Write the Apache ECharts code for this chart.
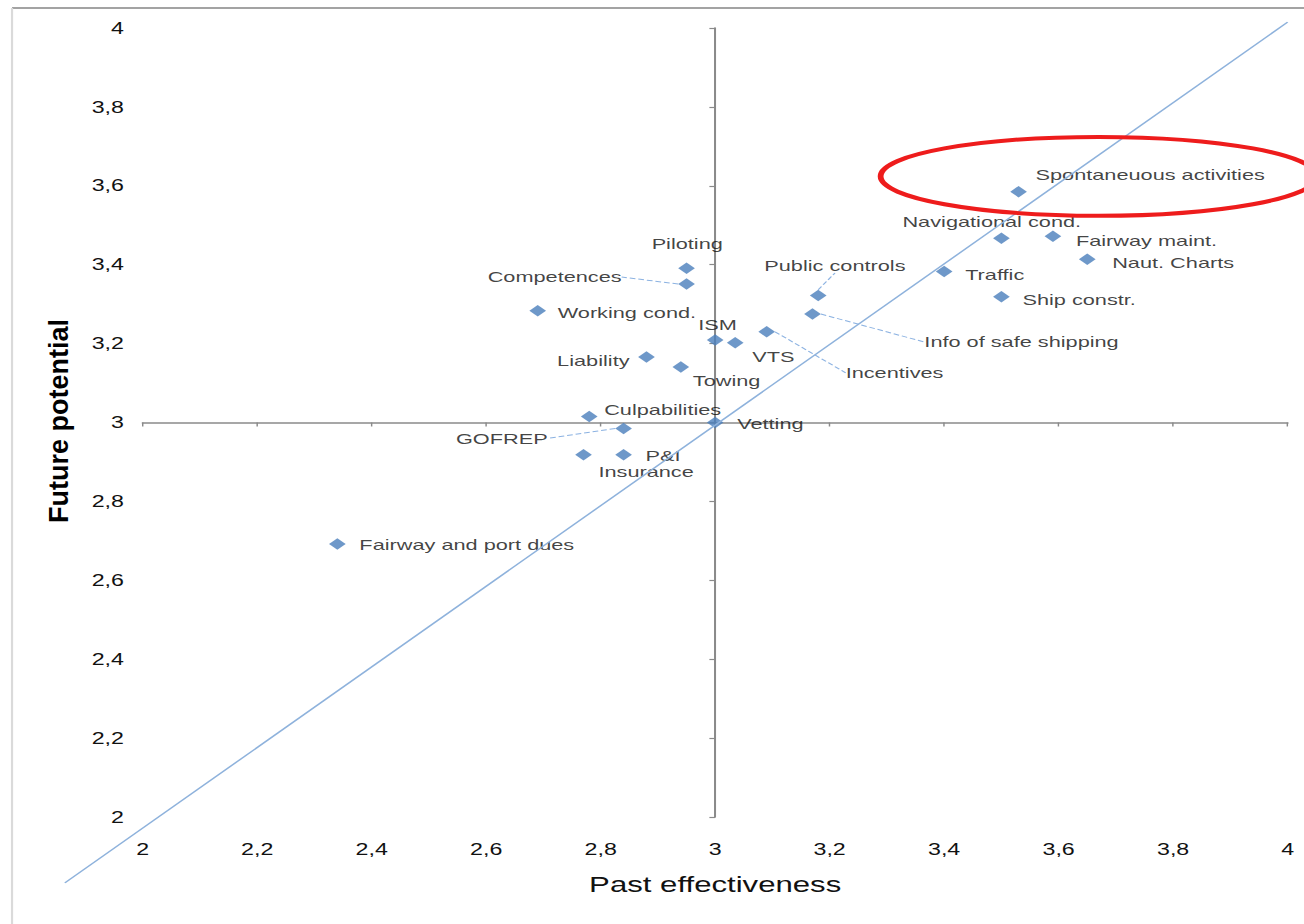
<!DOCTYPE html>
<html>
<head>
<meta charset="utf-8">
<script src="https://cdn.jsdelivr.net/npm/echarts@6/dist/echarts.min.js"></script>
<style>
  html, body { margin: 0; padding: 0; background: #fff; overflow: hidden; }
  #wrap { width: 1304px; height: 924px; overflow: hidden; }
  /* the plot is laid out on a 900px-wide canvas and widened to the full page */
  #chart { width: 900px; height: 924px; transform: scaleX(1.448889); transform-origin: 0 0; }
</style>
</head>
<body>
<div id="wrap"><div id="chart"></div></div>
<script>
const STRETCH = 1304 / 900;
const FONT = 'Liberation Sans, Arial, sans-serif';

// Safety measures: x = past effectiveness, y = future potential
const categories = [
  'Spontaneuous activities', 'Navigational cond.', 'Fairway maint.', 'Naut. Charts',
  'Traffic', 'Ship constr.', 'Public controls', 'Info of safe shipping', 'Incentives',
  'VTS', 'ISM', 'Piloting', 'Competences', 'Working cond.', 'Liability', 'Towing',
  'Culpabilities', 'GOFREP', 'Vetting', 'Insurance', 'P&I', 'Fairway and port dues'
];
const pastEffectiveness = [
  3.53, 3.50, 3.59, 3.65, 3.40, 3.50, 3.18, 3.17, 3.09, 3.035, 3.00,
  2.95, 2.95, 2.69, 2.88, 2.94, 2.78, 2.84, 3.00, 2.77, 2.84, 2.34
];
const futurePotential = [
  3.585, 3.467, 3.472, 3.414, 3.383, 3.319, 3.322, 3.275, 3.23, 3.202, 3.209,
  3.391, 3.351, 3.283, 3.166, 3.141, 3.015, 2.985, 3.00, 2.918, 2.918, 2.692
];
const tickLabels = ['2', '2,2', '2,4', '2,6', '2,8', '3', '3,2', '3,4', '3,6', '3,8', '4'];

// hand-drawn diagonal guide (endpoints in axis units)
const diagonalLine = [[1.864, 1.833], [4.0, 4.015]];
// red highlight ellipse around the top cluster (centre and radii in axis units)
const highlightCenter = [3.67, 3.624];
const highlightRadius = [0.381, 0.100];

// label placement: offset [dx, dy] in px from the marker, text alignment
const labelPlacement = {
  'Spontaneuous activities': [11.7, -17, 'left'],
  'Navigational cond.': [-68.3, -16, 'left'],
  'Fairway maint.': [15.9, 4, 'left'],
  'Naut. Charts': [17.2, 4, 'left'],
  'Traffic': [14.5, 3, 'left'],
  'Ship constr.': [14.5, 3, 'left'],
  'Public controls': [-37.2, -30, 'left'],
  'Info of safe shipping': [77.2, 28, 'left'],
  'Incentives': [54.5, 41, 'left'],
  'VTS': [11.7, 14, 'left'],
  'ISM': [-11.7, -15, 'left'],
  'Piloting': [-24.1, -24, 'left'],
  'Competences': [-44.8, -7, 'right'],
  'Working cond.': [13.8, 2, 'left'],
  'Liability': [-11.7, 4, 'right'],
  'Towing': [8.3, 14, 'left'],
  'Culpabilities': [10.3, -7, 'left'],
  'GOFREP': [-52.4, 10, 'right'],
  'Vetting': [15.2, 1, 'left'],
  'Insurance': [10.3, 17, 'left'],
  'P&I': [15.2, 1, 'left'],
  'Fairway and port dues': [15.2, 1, 'left']
};
const withLeader = ['Public controls', 'Info of safe shipping', 'Incentives', 'Competences', 'GOFREP'];

const points = categories.map((name, i) => ({
  name,
  value: [pastEffectiveness[i], futurePotential[i]],
  labelLine: { show: withLeader.indexOf(name) >= 0 }
}));

const gridLeft = 98.5, gridRight = 11.3, gridTop = 28, gridBottom = 107;
const chartW = 900, chartH = 924;
const axisGray = '#8a8a8a';
const textColor = '#111111';

const chart = echarts.init(document.getElementById('chart'), null, { renderer: 'svg' });

const midX = gridLeft + (chartW - gridLeft - gridRight) / 2;
const midY = gridTop + (chartH - gridTop - gridBottom) / 2;

const frameAndTitle = [
  { id: 'frameTop', type: 'line', shape: { x1: 8.3, y1: 8, x2: chartW, y2: 8 }, style: { stroke: '#a3a3a3', lineWidth: 2 }, z: 50 },
  { id: 'frameLeft', type: 'line', shape: { x1: 8.3, y1: 8, x2: 8.3, y2: chartH }, style: { stroke: '#dadada', lineWidth: 1.5 }, z: 50 },
  {
    id: 'yTitle', type: 'text', x: 40.7, y: 421, rotation: Math.PI / 2, scaleY: 1 / STRETCH,
    style: {
      text: 'Future potential', font: 'bold 27px ' + FONT, fill: '#000000',
      textAlign: 'center', textVerticalAlign: 'middle'
    },
    z: 50
  }
];

const option = {
  backgroundColor: '#ffffff',
  animation: false,
  grid: [
    { left: gridLeft, right: gridRight, top: gridTop, bottom: gridBottom },
    // carries the horizontal crossing axis (at y = 3)
    { left: gridLeft, right: gridRight, top: gridTop, bottom: chartH - midY },
    // carries the vertical crossing axis (at x = 3)
    { left: midX, right: gridRight, top: gridTop, bottom: gridBottom }
  ],
  xAxis: [
    {
      gridIndex: 0, type: 'value', min: 2, max: 4, interval: 0.2,
      axisLine: { show: false }, axisTick: { show: false }, splitLine: { show: false },
      axisLabel: {
        margin: 24, fontSize: 16, color: textColor, fontFamily: FONT,
        formatter: (v, i) => tickLabels[i]
      },
      name: 'Past effectiveness', nameLocation: 'middle', nameGap: 57,
      nameTextStyle: { fontSize: 21.5, color: textColor, fontFamily: FONT }
    },
    {
      gridIndex: 1, type: 'value', min: 2, max: 4, interval: 0.2, position: 'bottom',
      axisLine: { show: true, lineStyle: { color: axisGray, width: 1.6 } },
      axisTick: { show: true, length: 4, lineStyle: { color: axisGray, width: 1 } },
      axisLabel: { show: false }, splitLine: { show: false }
    },
    { gridIndex: 2, type: 'value', min: 3, max: 4, show: false }
  ],
  yAxis: [
    {
      gridIndex: 0, type: 'value', min: 2, max: 4, interval: 0.2,
      axisLine: { show: false }, axisTick: { show: false }, splitLine: { show: false },
      axisLabel: {
        margin: 13, fontSize: 16, color: textColor, fontFamily: FONT,
        formatter: (v, i) => tickLabels[i]
      }
    },
    { gridIndex: 1, type: 'value', min: 3, max: 4, show: false },
    {
      gridIndex: 2, type: 'value', min: 2, max: 4, interval: 0.2, position: 'left',
      axisLine: { show: true, lineStyle: { color: axisGray, width: 1.4 } },
      axisTick: { show: true, length: 4, lineStyle: { color: axisGray, width: 1.2 } },
      axisLabel: { show: false }, splitLine: { show: false }
    }
  ],
  series: [
    {
      type: 'scatter',
      xAxisIndex: 0, yAxisIndex: 0,
      symbol: 'diamond',
      symbolSize: 11.5,
      itemStyle: { color: '#4a7ebb' },
      data: points,
      z: 3,
      label: {
        show: true, position: 'right', formatter: '{b}',
        fontSize: 15, color: textColor, fontFamily: FONT
      },
      labelLine: {
        show: false,
        lineStyle: { color: '#8db3e2', type: 'dashed', width: 1 }
      },
      labelLayout: function (p) {
        const pl = labelPlacement[categories[p.dataIndex]];
        const cx = p.rect.x + p.rect.width / 2;
        const cy = p.rect.y + p.rect.height / 2;
        return { x: cx + pl[0], y: cy + pl[1], align: pl[2], verticalAlign: 'middle' };
      }
    }
  ],
  graphic: frameAndTitle
};

chart.setOption(option);

// diagonal guide and highlight ellipse, positioned through the axis scales
const toPx = (v) => chart.convertToPixel({ xAxisIndex: 0, yAxisIndex: 0 }, v);
const d0 = toPx(diagonalLine[0]);
const d1 = toPx(diagonalLine[1]);
const c = toPx(highlightCenter);
const e = toPx([highlightCenter[0] - highlightRadius[0], highlightCenter[1] - highlightRadius[1]]);

chart.setOption({
  graphic: frameAndTitle.concat([
    {
      id: 'diagonal', type: 'line', z: 20, silent: true,
      shape: { x1: d0[0], y1: d0[1], x2: d1[0], y2: d1[1] },
      style: { stroke: '#8eb2dc', lineWidth: 1.3 }
    },
    {
      id: 'highlight', type: 'ellipse', z: 100, silent: true,
      shape: { cx: c[0], cy: c[1], rx: c[0] - e[0], ry: e[1] - c[1] },
      style: { fill: 'none', stroke: '#ee1c1c', lineWidth: 4 }
    }
  ])
});
</script>
</body>
</html>
